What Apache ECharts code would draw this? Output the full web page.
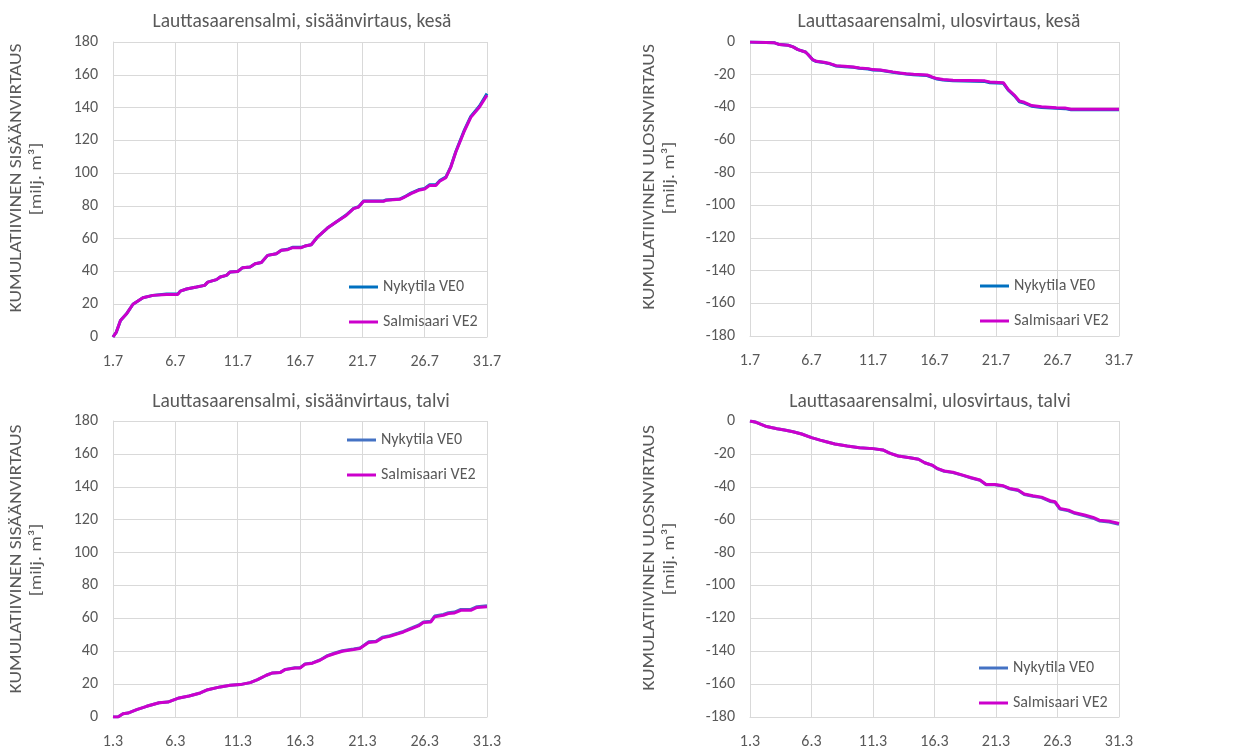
<!DOCTYPE html>
<html><head><meta charset="utf-8">
<script src="https://cdn.jsdelivr.net/npm/echarts@6/dist/echarts.min.js"></script>
<style>html,body{margin:0;padding:0;background:#fff}#c{width:1241px;height:755px}</style>
</head><body><div id="c"></div><script>
// ---- Data ----
const titles = [
  'Lauttasaarensalmi, sisäänvirtaus, kesä',
  'Lauttasaarensalmi, ulosvirtaus, kesä',
  'Lauttasaarensalmi, sisäänvirtaus, talvi',
  'Lauttasaarensalmi, ulosvirtaus, talvi'
];
const yNameLine1 = [
  'KUMULATIIVINEN SISÄÄNVIRTAUS',
  'KUMULATIIVINEN ULOSNVIRTAUS',
  'KUMULATIIVINEN SISÄÄNVIRTAUS',
  'KUMULATIIVINEN ULOSNVIRTAUS'
];
const yNameLine2 = '[milj. m³]';
const seriesNames = ['Nykytila VE0', 'Salmisaari VE2'];
const xLabelsSummer = ['1.7', '6.7', '11.7', '16.7', '21.7', '26.7', '31.7'];
const xLabelsWinter = ['1.3', '6.3', '11.3', '16.3', '21.3', '26.3', '31.3'];

// days since start of month
const summerInDays = [0,0.27,0.6,1.07,1.6,2.4,3.2,4.3,5.2,5.4,5.9,6.7,7.35,7.6,8.3,8.6,9.1,9.4,10.0,10.4,11,11.4,11.9,12.4,13.1,13.5,14,14.4,15.1,15.4,15.9,16.4,17.2,17.9,18.7,19.3,19.7,20.1,21.7,21.9,23,23.4,23.9,24.5,25,25.4,25.9,26.2,26.7,27.1,27.5,28.2,28.7,29.4,30];
const summerInVE0 =  [0,3,10,14,20,24,25.4,26.2,26.2,28,29.3,30.5,31.5,33.5,35,36.6,37.6,39.7,40,42.3,42.7,44.7,45.4,49.8,50.8,52.9,53.5,54.7,54.7,55.5,56.3,61,66.5,70.2,74.4,78.5,79.5,83,83,83.6,84.2,85.6,87.8,89.8,90.7,92.9,92.9,95.4,97.6,104,113.2,126.5,134.6,141,148.5];
const summerInVE2 =  [0,3,10,14,20,24,25.4,26,26,28,29.3,30.5,31.5,33.5,35,36.6,37.6,39.7,40,42.3,42.7,44.7,45.4,49.8,50.8,52.9,53.3,54.5,54.5,55.5,56.3,61,66.5,70.2,74.2,78.3,79.3,82.8,82.8,83.4,84,85.4,87.5,89.5,90.3,92.5,92.5,95,97.2,103.7,112.9,126,134,140.3,147.5];

const summerOutDays = [0,1.95,2.4,3.1,3.5,3.9,4.5,4.7,5.1,5.4,6.0,6.5,7.0,7.7,8.4,8.9,9.6,10.0,10.6,11.1,11.6,12.2,12.7,13.3,14.4,14.8,15.2,15.7,16.5,19.1,19.5,20.6,21,21.5,21.9,22.3,22.9,23.7,24.9,25.6,26.1,30];
const summerOutVE0 =  [0,-0.4,-1.6,-2,-3,-4.7,-6.1,-7.5,-10.9,-12,-12.6,-13.4,-14.7,-15.1,-15.5,-16.1,-16.5,-17.1,-17.3,-17.9,-18.5,-19.2,-19.6,-20,-20.5,-21.7,-22.7,-23.3,-23.7,-24.2,-24.9,-25.3,-29.5,-33,-36.6,-37.4,-39.3,-40.1,-40.6,-40.8,-41.5,-41.5];
const summerOutVE2 =  [0,-0.4,-1.6,-2,-3,-4.7,-6.1,-7.5,-10.8,-11.8,-12.4,-13.2,-14.5,-14.9,-15.3,-15.9,-16.3,-16.9,-17.1,-17.7,-18.3,-19,-19.4,-19.8,-20.2,-21.4,-22.4,-23,-23.4,-23.8,-24.5,-24.9,-29.1,-32.6,-36.1,-36.9,-38.9,-39.7,-40.2,-40.4,-41.2,-41.2];

const winterInDays = [0,0.4,0.8,1.2,1.9,2.7,3.7,4.4,5.3,6.1,7,7.6,8.6,9.4,10.2,11,11.6,12.3,12.8,13.4,13.8,14.6,15,15.4,16,16.6,17.2,17.8,18.4,19.3,19.8,20.5,21.1,21.6,22.2,22.9,23.3,24.1,24.5,24.9,25.5,25.8,26.5,26.9,27.4,27.9,28.7,29.2,30];
const winterInVE0 =  [0,0,2,2.4,4.5,6.5,8.7,9.1,11.6,12.8,14.6,16.6,18.3,19.3,19.7,20.9,22.7,25.4,26.8,27.1,28.9,29.9,29.9,32.3,32.9,34.7,37.3,38.9,40.3,41.3,41.9,45.7,46.1,48.5,49.5,51.1,52.1,54.6,55.8,57.8,58.2,61.4,62.4,63.4,63.8,65.4,65.4,67.1,67.6];
const winterInVE2 =  [0,0,2,2.4,4.5,6.5,8.7,9.1,11.6,12.8,14.6,16.6,18.3,19.3,19.7,20.9,22.7,25.4,26.8,27,28.8,29.8,29.8,32.1,32.7,34.5,37.1,38.6,40,41,41.6,45.3,45.7,48.1,49.1,50.7,51.7,54.2,55.4,57.4,57.8,60.9,61.9,62.9,63.3,64.9,64.9,66.6,67];

const winterOutDays = [0,0.5,1.35,2.2,2.8,3.5,4.2,5,5.7,6.2,6.9,7.9,8.9,10,10.8,11.4,12.05,13,13.7,14.2,14.8,15.2,15.8,16.5,17.3,18,18.7,19.2,19.9,20.6,21.1,21.8,22.3,23,23.7,24.4,24.8,25.2,25.9,26.4,27.2,27.9,28.4,29.2,30];
const winterOutVE0 =  [0,-0.8,-3.4,-4.7,-5.5,-6.5,-7.9,-10.1,-11.6,-12.6,-14,-15.2,-16.2,-16.8,-17.6,-19.7,-21.3,-22.3,-23.3,-25.4,-26.9,-28.9,-30.6,-31.4,-33.1,-34.7,-36.1,-38.8,-38.8,-39.6,-41.2,-42.3,-44.7,-45.8,-46.6,-48.9,-49.5,-53.6,-54.6,-56.2,-57.7,-59.1,-60.8,-61.4,-62.8];
const winterOutVE2 =  [0,-0.8,-3.4,-4.7,-5.5,-6.5,-7.9,-10.1,-11.6,-12.6,-14,-15.2,-16.2,-16.8,-17.6,-19.7,-21.3,-22.3,-23.3,-25.4,-26.8,-28.8,-30.4,-31.2,-32.9,-34.5,-35.9,-38.6,-38.6,-39.4,-41,-42,-44.4,-45.5,-46.3,-48.5,-49.1,-53.2,-54.2,-55.8,-57.2,-58.6,-60.3,-60.9,-62.3];

// ---- Layout / style ----
const FONT = 'Carlito, Lato, sans-serif';
const GRAY = '#595959';
const GRID = '#D9D9D9';
const MAGENTA = '#CC00CC';
const panels = [
  {grid:{left:113, top:42, width:374, height:295}, days:summerInDays, v0:summerInVE0, v2:summerInVE2, labels:xLabelsSummer, ymin:0, ymax:180, blue:'#0070C0', titleX:302, titleY:12, legend:{left:349, top:278}, nameX:17, nameY:178},
  {grid:{left:750, top:42, width:369, height:294}, days:summerOutDays, v0:summerOutVE0, v2:summerOutVE2, labels:xLabelsSummer, ymin:-180, ymax:0, blue:'#0070C0', titleX:939, titleY:12, legend:{left:980, top:277}, nameX:650, nameY:177},
  {grid:{left:113, top:421, width:374, height:296}, days:winterInDays, v0:winterInVE0, v2:winterInVE2, labels:xLabelsWinter, ymin:0, ymax:180, blue:'#4472C4', titleX:301, titleY:392, legend:{left:347, top:431}, nameX:17, nameY:559},
  {grid:{left:750, top:421, width:369, height:296}, days:winterOutDays, v0:winterOutVE0, v2:winterOutVE2, labels:xLabelsWinter, ymin:-180, ymax:0, blue:'#4472C4', titleX:930, titleY:392, legend:{left:979, top:659}, nameX:650, nameY:558}
];

const nameStyle = (text) => ({text, fontFamily: FONT, fontSize: 16, fill: GRAY, align: 'center', verticalAlign: 'middle'});

const option = {
  backgroundColor: '#fff',
  animation: false,
  title: panels.map((p, i) => ({
    text: titles[i], left: p.titleX, top: p.titleY, textAlign: 'center', padding: 0,
    textStyle: {fontFamily: FONT, fontSize: 19.5, fontWeight: 'normal', color: GRAY}
  })),
  grid: panels.map(p => p.grid),
  xAxis: panels.map((p, i) => ({
    type: 'value', gridIndex: i, min: 0, max: 30, interval: 5,
    axisLine: {onZero: false, lineStyle: {color: GRID, width: 1}},
    axisTick: {show: false},
    splitLine: {show: true, lineStyle: {color: GRID, width: 1}},
    axisLabel: {fontFamily: FONT, fontSize: 16, color: GRAY, margin: 17, showMinLabel: true, showMaxLabel: true,
      formatter: v => p.labels[Math.round(v / 5)]}
  })),
  yAxis: panels.map((p, i) => ({
    type: 'value', gridIndex: i, min: p.ymin, max: p.ymax, interval: 20,
    axisLine: {show: true, onZero: false, lineStyle: {color: GRID, width: 1}},
    axisTick: {show: false},
    splitLine: {show: true, lineStyle: {color: GRID, width: 1}},
    axisLabel: {fontFamily: FONT, fontSize: 16, color: GRAY, margin: 15}
  })),
  graphic: panels.flatMap((p, i) => [
    {type: 'text', x: p.nameX, y: p.nameY, rotation: Math.PI / 2, scaleX: 1.22, silent: true, style: nameStyle(yNameLine1[i])},
    {type: 'text', x: p.nameX + 20, y: p.nameY + 1, rotation: Math.PI / 2, scaleX: 1.22, silent: true, style: nameStyle(yNameLine2)}
  ]),
  legend: panels.map(p => ({
    left: p.legend.left, top: p.legend.top, orient: 'vertical', padding: 0,
    icon: 'rect', itemWidth: 29, itemHeight: 3, itemGap: 17,
    textStyle: {fontFamily: FONT, fontSize: 16, color: GRAY, lineHeight: 18},
    data: [
      {name: seriesNames[0], itemStyle: {color: p.blue}},
      {name: seriesNames[1], itemStyle: {color: MAGENTA}}
    ]
  })),
  series: panels.flatMap((p, i) => [
    {name: seriesNames[0], type: 'line', xAxisIndex: i, yAxisIndex: i, symbol: 'none',
     lineStyle: {color: p.blue, width: 3}, itemStyle: {color: p.blue},
     data: p.days.map((d, k) => [d, p.v0[k]])},
    {name: seriesNames[1], type: 'line', xAxisIndex: i, yAxisIndex: i, symbol: 'none',
     lineStyle: {color: MAGENTA, width: 3}, itemStyle: {color: MAGENTA},
     data: p.days.map((d, k) => [d, p.v2[k]])}
  ])
};
const chart = echarts.init(document.getElementById('c'), null, {renderer: 'canvas'});
chart.setOption(option);
</script></body></html>
